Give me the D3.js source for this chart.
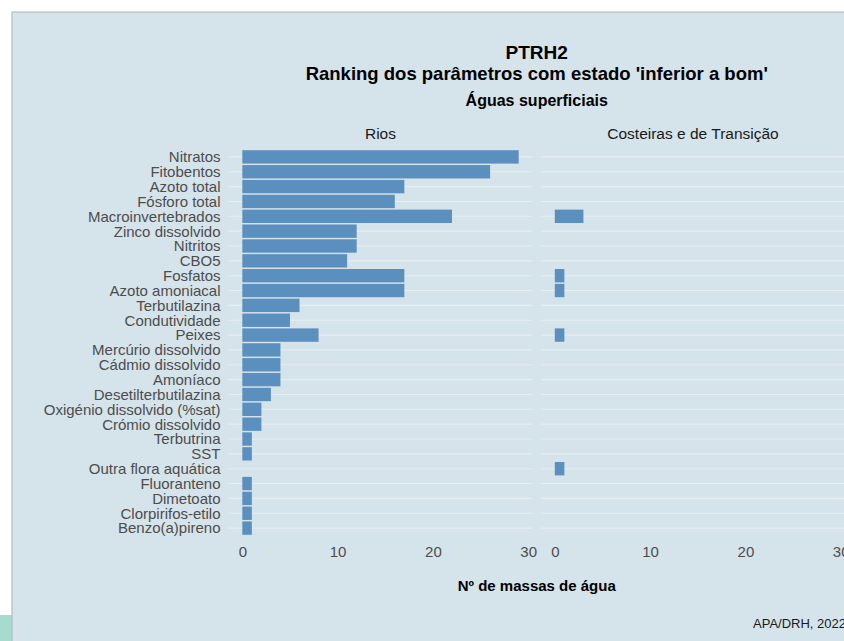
<!DOCTYPE html>
<html>
<head>
<meta charset="utf-8">
<script src="https://cdn.jsdelivr.net/npm/d3@7"></script>
<style>
  body { margin: 0; background: #ffffff; }
  svg { display: block; font-family: "Liberation Sans", Arial, sans-serif; }
</style>
</head>
<body>
<svg id="chart"></svg>
<script>
const width = 844, height = 641;

// parameters, top to bottom
const parametros = ["Nitratos", "Fitobentos", "Azoto total", "Fósforo total", "Macroinvertebrados",
  "Zinco dissolvido", "Nitritos", "CBO5", "Fosfatos", "Azoto amoniacal", "Terbutilazina",
  "Condutividade", "Peixes", "Mercúrio dissolvido", "Cádmio dissolvido", "Amoníaco",
  "Desetilterbutilazina", "Oxigénio dissolvido (%sat)", "Crómio dissolvido", "Terbutrina",
  "SST", "Outra flora aquática", "Fluoranteno", "Dimetoato", "Clorpirifos-etilo", "Benzo(a)pireno"];
const rios = [29, 26, 17, 16, 22, 12, 12, 11, 17, 17, 6, 5, 8, 4, 4, 4, 3, 2, 2, 1, 1, 0, 1, 1, 1, 1];
const costeiras = [0, 0, 0, 0, 3, 0, 0, 0, 1, 1, 0, 0, 1, 0, 0, 0, 0, 0, 0, 0, 0, 1, 0, 0, 0, 0];
const paineis = ["Rios", "Costeiras e de Transição"];
const xTicks = [0, 10, 20, 30];

const svg = d3.select("#chart").attr("width", width).attr("height", height);

// plot background card
svg.append("rect").attr("x", 0).attr("y", 615).attr("width", 12).attr("height", 26).attr("fill", "#a6dccf");
svg.append("rect").attr("x", 12).attr("y", 12).attr("width", width).attr("height", height)
  .attr("fill", "#d5e3ea").attr("stroke", "#b3bbc0").attr("stroke-width", 1.2);

const panelW = 304, gap = 8.5, panelLeft = 228.5, panelTop = 148, panelBottom = 537;
const series = [rios, costeiras];

const maxV = d3.max(series.flat());
const pad = maxV * 0.05;

const y = d3.scaleBand()
  .domain(parametros)
  .range([panelTop, panelBottom])
  .paddingInner(0.1)
  .paddingOuter(0.15);

const gray = "#4d4d4d";

series.forEach((vals, i) => {
  const x0 = panelLeft + i * (panelW + gap);
  const x = d3.scaleLinear().domain([-pad, maxV + pad]).range([x0, x0 + panelW]);
  const g = svg.append("g");

  // horizontal grid
  g.selectAll("line.grid").data(parametros).enter().append("line")
    .attr("x1", x0).attr("x2", x0 + panelW)
    .attr("y1", d => y(d) + y.bandwidth() / 2).attr("y2", d => y(d) + y.bandwidth() / 2)
    .attr("stroke", "#e6eef2").attr("stroke-width", 1.1);

  g.selectAll("rect.bar").data(parametros.map((p, j) => ({p, v: vals[j]})).filter(d => d.v > 0))
    .enter().append("rect")
    .attr("x", x(0)).attr("y", d => y(d.p))
    .attr("width", d => x(d.v) - x(0)).attr("height", y.bandwidth())
    .attr("fill", "#5b8fbe");

  const axis = d3.axisBottom(x).tickValues(xTicks).tickSize(0).tickPadding(0);
  const ax = g.append("g").attr("transform", `translate(0,${panelBottom + 9})`).call(axis);
  ax.select(".domain").remove();
  ax.selectAll("text").attr("fill", gray).attr("font-size", 15).attr("dy", "0.71em")
    .attr("font-family", "Liberation Sans, Arial, sans-serif");

  g.append("text").attr("x", x0 + panelW / 2).attr("y", 138.5)
    .attr("text-anchor", "middle").attr("font-size", 15.5).attr("fill", "#1a1a1a")
    .text(paineis[i]);
});

// category labels
svg.append("g").selectAll("text").data(parametros).enter().append("text")
  .attr("x", panelLeft - 8).attr("y", d => y(d) + y.bandwidth() / 2).attr("dy", "0.36em")
  .attr("text-anchor", "end").attr("font-size", 15).attr("fill", gray)
  .text(d => d);

const cx = panelLeft + panelW + gap / 2;
svg.append("text").attr("x", cx).attr("y", 59).attr("text-anchor", "middle")
  .attr("font-size", 19).attr("font-weight", "bold").text("PTRH2");
svg.append("text").attr("x", cx).attr("y", 80).attr("text-anchor", "middle")
  .attr("font-size", 18.5).attr("font-weight", "bold").text("Ranking dos parâmetros com estado 'inferior a bom'");
svg.append("text").attr("x", cx).attr("y", 106).attr("text-anchor", "middle")
  .attr("font-size", 16).attr("font-weight", "bold").text("Águas superficiais");

svg.append("text").attr("x", cx).attr("y", 591).attr("text-anchor", "middle")
  .attr("font-size", 15).attr("font-weight", "bold").text("Nº de massas de água");

svg.append("text").attr("x", 846).attr("y", 628).attr("text-anchor", "end")
  .attr("font-size", 13).attr("fill", "#1a1a1a").text("APA/DRH, 2022");
</script>
</body>
</html>
